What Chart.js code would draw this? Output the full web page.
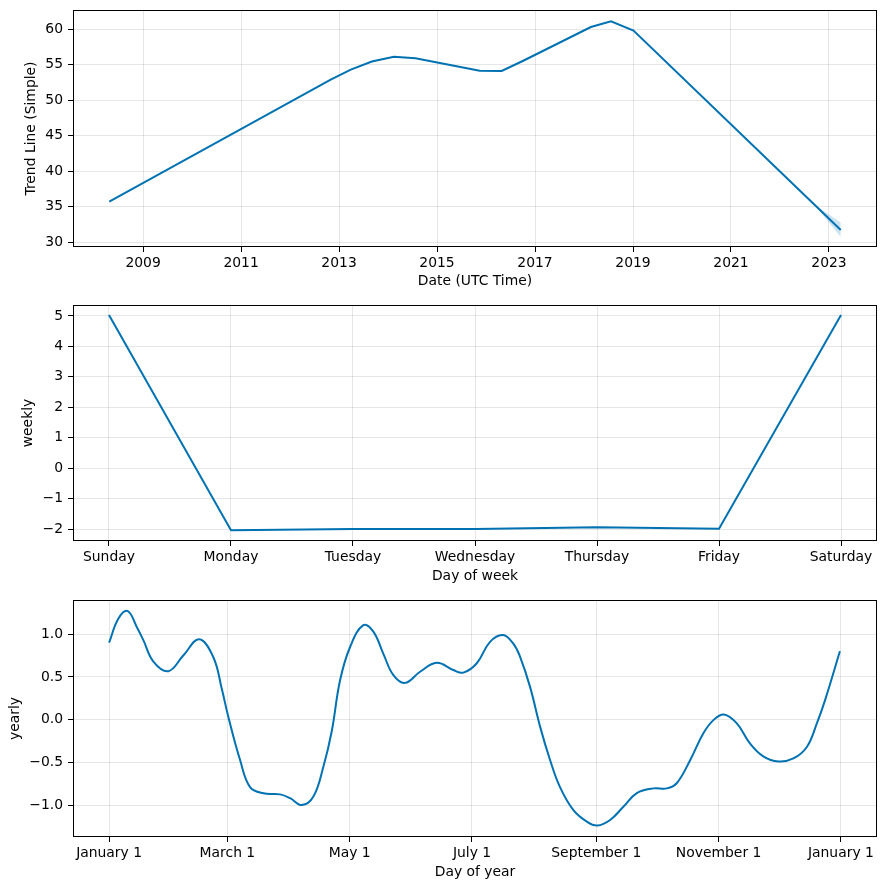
<!DOCTYPE html>
<html>
<head>
<meta charset="utf-8">
<script src="https://cdn.jsdelivr.net/npm/chart.js@4.4.1/dist/chart.umd.min.js"></script>
<style>
  body { margin: 0; background: #fff; }
  #wrap { position: relative; width: 886px; height: 890px; }
  canvas { position: absolute; left: 0; }
</style>
</head>
<body>
<div id="wrap">
  <canvas id="trendChart" width="886" height="295" style="top:0px"></canvas>
  <canvas id="weeklyChart" width="886" height="295" style="top:295px"></canvas>
  <canvas id="yearlyChart" width="886" height="300" style="top:590px"></canvas>
</div>
<script>
// trend component (decimal years)
const trend_years  = [2008.31, 2012.83, 2013.24, 2013.67, 2014.12, 2014.56, 2015.87, 2016.32, 2016.76, 2018.14, 2018.55, 2019.01, 2022.7, 2023.24]
const trend_values = [35.68, 52.9, 54.3, 55.45, 56.1, 55.9, 54.15, 54.1, 55.55, 60.3, 61.1, 59.8, 35.3, 31.7]
const trend_upper  = [35.68, 52.9, 54.3, 55.45, 56.1, 55.9, 54.15, 54.1, 55.55, 60.3, 61.1, 59.8, 35.3, 32.75]
const trend_lower  = [35.68, 52.9, 54.3, 55.45, 56.1, 55.9, 54.15, 54.1, 55.55, 60.3, 61.1, 59.8, 35.3, 30.7]
const trend_x_ticks = [2009, 2011, 2013, 2015, 2017, 2019, 2021, 2023]
const trend_y_ticks = [30, 35, 40, 45, 50, 55, 60]

// weekly component
const week_days   = ['Sunday', 'Monday', 'Tuesday', 'Wednesday', 'Thursday', 'Friday', 'Saturday']
const week_values = [5.03, -2.04, -2.0, -2.0, -1.94, -1.99, 5.03]
const week_y_ticks = [-2, -1, 0, 1, 2, 3, 4, 5]

// yearly component (day of year)
const year_days = [0, 4.6, 9.3, 13.8, 17.1, 22.1, 29.6, 37, 44.9, 52, 56.2, 59.5, 65.3, 70.3, 77, 85.3, 90.3, 96.1,
  101.9, 106.9, 111.1, 115.2, 120.2, 126.8, 131.8, 136.8, 141.8, 147.6, 155.1, 163.4, 171.7, 176.7, 183.4, 190,
  196.4, 201.6, 205, 210, 215, 219.9, 224.9, 231.6, 238.3, 243.5, 249.9, 256.5, 263.2, 271.5, 278.2, 283.1,
  289.8, 296.4, 301.4, 306.7, 313.1, 319.7, 326.3, 333.8, 341.3, 348, 353, 357.1, 364.5]
const year_values = [0.9, 1.18, 1.27, 1.085, 0.93, 0.68, 0.567, 0.75, 0.94, 0.73, 0.36, 0.03, -0.47, -0.79, -0.863, -0.875, -0.92, -1.0,
  -0.9, -0.55, -0.13, 0.46, 0.85, 1.105, 1.03, 0.77, 0.52, 0.43, 0.56, 0.665, 0.58, 0.55, 0.66, 0.91,
  0.99, 0.89, 0.735, 0.38, -0.085, -0.47, -0.79, -1.06, -1.195, -1.24, -1.175, -1.02, -0.86, -0.805, -0.805, -0.745,
  -0.475, -0.16, -0.006, 0.06, -0.045, -0.28, -0.43, -0.49, -0.455, -0.32, -0.045, 0.228, 0.8]
const year_tick_days   = [0, 59, 120, 181, 243, 304, 365]
const year_tick_labels = ['January 1', 'March 1', 'May 1', 'July 1', 'September 1', 'November 1', 'January 1']
const year_y_ticks = [-1.0, -0.5, 0.0, 0.5, 1.0]

const LINE = '#0072B2'
const FONT = { family: 'DejaVu Sans', size: 13.9 }

function pts(xs, ys) {
  return xs.map((x, i) => ({ x: x, y: ys[i] }))
}
function minus(s) {
  return String(s).replace('-', '\u2212')
}

const frame = {
  id: 'frame',
  afterDraw(chart) {
    const a = chart.chartArea
    const ctx = chart.ctx
    ctx.save()
    ctx.strokeStyle = '#000'
    ctx.lineWidth = 1
    ctx.strokeRect(Math.round(a.left) + 0.5, Math.round(a.top) + 0.5,
      Math.round(a.right - a.left) - 1, Math.round(a.bottom - a.top) - 1)
    ctx.restore()
  }
}

function makeOptions(c) {
  return {
    responsive: false,
    animation: false,
    layout: { padding: { left: 0, right: 9, top: 10, bottom: 0 } },
    plugins: { legend: { display: false }, tooltip: { enabled: false } },
    elements: { point: { radius: 0 } },
    scales: {
      x: {
        type: 'linear',
        min: c.xmin, max: c.xmax,
        afterBuildTicks: (s) => { s.ticks = c.xticks.map(v => ({ value: v })) },
        afterFit: (s) => { s.height = c.xHeight; s.paddingLeft = 0; s.paddingRight = 0 },
        grid: { color: 'rgba(128,128,128,0.2)', lineWidth: 1, tickColor: '#000', tickLength: 5, drawTicks: true },
        border: { display: false },
        ticks: { color: '#000', font: FONT, padding: 3, autoSkip: false, maxRotation: 0, callback: c.xlabel },
        title: { display: true, text: c.xtitle, color: '#000', font: FONT, padding: { top: 0, bottom: c.xtitlePad } }
      },
      y: {
        type: 'linear',
        min: c.ymin, max: c.ymax,
        afterBuildTicks: (s) => { s.ticks = c.yticks.map(v => ({ value: v })) },
        afterFit: (s) => { s.width = 73; s.paddingTop = 0; s.paddingBottom = 0 },
        grid: { color: 'rgba(128,128,128,0.2)', lineWidth: 1, tickColor: '#000', tickLength: 5, drawTicks: true },
        border: { display: false },
        ticks: { color: '#000', font: FONT, padding: 5, autoSkip: false, callback: c.ylabel },
        title: { display: true, text: c.ytitle, color: '#000', font: FONT, padding: { top: c.ytitlePad, bottom: 0 } }
      }
    }
  }
}

new Chart(document.getElementById('trendChart'), {
  type: 'line',
  data: {
    datasets: [
      { data: pts(trend_years, trend_lower), borderWidth: 0, borderColor: 'rgba(0,0,0,0)', fill: false },
      { data: pts(trend_years, trend_upper), borderWidth: 0, borderColor: 'rgba(0,0,0,0)', fill: '-1',
        backgroundColor: 'rgba(0,114,178,0.2)' },
      { data: pts(trend_years, trend_values), borderColor: LINE, borderWidth: 2, fill: false }
    ]
  },
  options: makeOptions({
    xmin: 2007.57, xmax: 2023.98, xticks: trend_x_ticks, xHeight: 48,
    xlabel: (v) => String(v), xtitle: 'Date (UTC Time)', xtitlePad: 5,
    ymin: 29.3, ymax: 62.7, yticks: trend_y_ticks,
    ylabel: (v) => String(v), ytitle: 'Trend Line (Simple)', ytitlePad: 23
  }),
  plugins: [frame]
})

new Chart(document.getElementById('weeklyChart'), {
  type: 'line',
  data: {
    datasets: [
      { data: pts(week_days.map((d, i) => i), week_values), borderColor: LINE, borderWidth: 2, fill: false }
    ]
  },
  options: makeOptions({
    xmin: -0.295, xmax: 6.295, xticks: week_days.map((d, i) => i), xHeight: 49,
    xlabel: (v) => week_days[v], xtitle: 'Day of week', xtitlePad: 5,
    ymin: -2.39, ymax: 5.36, yticks: week_y_ticks,
    ylabel: (v) => minus(v), ytitle: 'weekly', ytitlePad: 20
  }),
  plugins: [frame]
})

new Chart(document.getElementById('yearlyChart'), {
  type: 'line',
  data: {
    datasets: [
      { data: pts(year_days, year_values), borderColor: LINE, borderWidth: 2, fill: false, tension: 0.4 }
    ]
  },
  options: makeOptions({
    xmin: -18, xmax: 383, xticks: year_tick_days, xHeight: 53,
    xlabel: (v) => year_tick_labels[year_tick_days.indexOf(v)], xtitle: 'Day of year', xtitlePad: 9,
    ymin: -1.374, ymax: 1.40, yticks: year_y_ticks,
    ylabel: (v) => minus(v.toFixed(1)), ytitle: 'yearly', ytitlePad: 7
  }),
  plugins: [frame]
})
</script>
</body>
</html>
